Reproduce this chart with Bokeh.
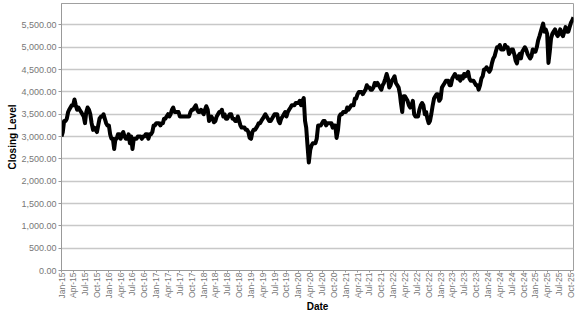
import datetime as dt
from math import pi
from bokeh.plotting import figure
from bokeh.models import (Range1d, FixedTicker, NumeralTickFormatter,
                          DatetimeTickFormatter, ColumnDataSource)
from bokeh.embed import file_html
from bokeh.resources import INLINE

# ---- data: closing level, three readings per month (1st, 11th, 21st) ----
v2015 = [3000, 3100, 3350, 3350, 3400, 3550, 3600, 3650, 3700, 3700, 3830, 3700,
         3600, 3650, 3600, 3550, 3500, 3450, 3300, 3550, 3650, 3600, 3500, 3300,
         3150, 3200, 3150, 3100, 3250, 3400, 3450, 3450, 3500, 3400, 3300, 3250]
v2016 = [3250, 3050, 2950, 2950, 2720, 2950, 2950, 3050, 3050, 2950, 3050, 3100,
         3000, 2950, 2950, 3050, 2850, 3000, 2720, 2950, 2950, 2950, 3000, 3000,
         3000, 2950, 3000, 3000, 3050, 3050, 2950, 3050, 3050, 3100, 3250, 3250]
v2017 = [3300, 3300, 3300, 3250, 3300, 3300, 3400, 3400, 3450, 3500, 3450, 3500,
         3600, 3650, 3550, 3550, 3550, 3550, 3450, 3450, 3450, 3450, 3450, 3450,
         3450, 3450, 3550, 3600, 3600, 3650, 3700, 3600, 3550, 3550, 3600, 3550]
v2018 = [3500, 3600, 3680, 3600, 3350, 3400, 3450, 3400, 3320, 3350, 3450, 3500,
         3550, 3550, 3600, 3450, 3500, 3400, 3400, 3450, 3500, 3500, 3400, 3400,
         3350, 3350, 3450, 3350, 3250, 3200, 3200, 3200, 3150, 3150, 3100, 2970]
v2019 = [2950, 3100, 3150, 3150, 3200, 3250, 3300, 3300, 3350, 3400, 3450, 3500,
         3450, 3400, 3350, 3350, 3400, 3450, 3500, 3500, 3500, 3350, 3300, 3400,
         3450, 3500, 3550, 3450, 3550, 3600, 3650, 3700, 3700, 3700, 3750, 3750]
v2020 = [3750, 3800, 3700, 3800, 3860, 3350, 3200, 2800, 2420, 2700, 2800, 2850,
         2850, 2850, 2950, 3250, 3250, 3250, 3300, 3350, 3350, 3250, 3300, 3300,
         3300, 3300, 3200, 3250, 3250, 2970, 3150, 3450, 3500, 3500, 3550, 3550]
v2021 = [3550, 3650, 3600, 3650, 3700, 3700, 3700, 3850, 3850, 3950, 4000, 4000,
         4000, 3950, 4000, 4050, 4150, 4100, 4100, 4050, 4050, 4100, 4200, 4150,
         4200, 4150, 4100, 4050, 4150, 4200, 4300, 4400, 4300, 4100, 4150, 4250]
v2022 = [4300, 4350, 4200, 4150, 4100, 3950, 3750, 3550, 3900, 3900, 3850, 3800,
         3700, 3650, 3700, 3800, 3500, 3450, 3450, 3450, 3600, 3700, 3750, 3700,
         3500, 3550, 3400, 3300, 3350, 3500, 3700, 3850, 3900, 3950, 3950, 3800]
v2023 = [3850, 4100, 4150, 4200, 4250, 4250, 4250, 4150, 4150, 4300, 4350, 4400,
         4350, 4300, 4350, 4250, 4350, 4300, 4400, 4350, 4400, 4450, 4300, 4250,
         4250, 4250, 4200, 4150, 4150, 4050, 4150, 4300, 4350, 4500, 4500, 4550]
v2024 = [4500, 4450, 4500, 4650, 4750, 4800, 4900, 5000, 5000, 5050, 4950, 4950,
         4950, 5050, 5000, 5000, 4850, 4900, 4950, 4950, 4850, 4700, 4640, 4800,
         4850, 4750, 4900, 4950, 5000, 4950, 4850, 4800, 4750, 4800, 4950, 4900]
v2025 = [4900, 5000, 5150, 5250, 5350, 5450, 5530, 5350, 5400, 5300, 4650, 4900,
         5200, 5300, 5350, 5400, 5300, 5250, 5300, 5400, 5300, 5250, 5350, 5450,
         5350, 5350, 5450, 5550, 5600, 5670]
years = [2015, 2016, 2017, 2018, 2019, 2020, 2021, 2022, 2023, 2024, 2025]
series = [v2015, v2016, v2017, v2018, v2019, v2020, v2021, v2022, v2023, v2024, v2025]
days_of_month = [1, 11, 21]

# tick labels: quarter starts, Jan-15 .. Oct-25
quarter_months = [1, 4, 7, 10]
y_ticks = [0, 500, 1000, 1500, 2000, 2500, 3000, 3500, 4000, 4500, 5000, 5500]

dates, closes = [], []
for yr, vals in zip(years, series):
    for i, v in enumerate(vals):
        dates.append(dt.datetime(yr, i // 3 + 1, days_of_month[i % 3]))
        closes.append(v)

tick_dates = [dt.datetime(y, m, 1) for y in years for m in quarter_months
              if dt.datetime(y, m, 1) <= dt.datetime(2025, 10, 1)]
epoch = dt.datetime(1970, 1, 1)
tick_ms = [(d - epoch).total_seconds() * 1000 for d in tick_dates]

src = ColumnDataSource(dict(date=dates, close=closes))

p = figure(width=577, height=315, x_axis_type="datetime", output_backend="svg",
           toolbar_location=None,
           x_range=Range1d(dates[0], dates[-1]), y_range=Range1d(0, 5980),
           min_border_left=61, min_border_right=4, min_border_top=3, min_border_bottom=44)

p.line("date", "close", source=src, line_color="black", line_width=4, line_join="round")

FONT = "Liberation Sans"
p.xaxis.ticker = FixedTicker(ticks=tick_ms)
fmt = "%b-%y"
p.xaxis.formatter = DatetimeTickFormatter(milliseconds=fmt, seconds=fmt, minsec=fmt, minutes=fmt,
                                          hourmin=fmt, hours=fmt, days=fmt, months=fmt, years=fmt,
                                          context=None)
p.xaxis.major_label_orientation = pi / 2
p.yaxis.ticker = FixedTicker(ticks=y_ticks)
p.yaxis.formatter = NumeralTickFormatter(format="0,0.00")

for ax in (p.xaxis[0], p.yaxis[0]):
    ax.major_label_text_font = FONT
    ax.major_label_text_font_size = "9px"
    ax.major_label_text_color = "#777777"
    ax.axis_label_text_font = FONT
    ax.axis_label_text_font_size = "10px"
    ax.axis_label_text_font_style = "bold"
    ax.axis_label_text_color = "black"
    ax.axis_line_color = "#999999"
    ax.major_tick_line_color = "#999999"
    ax.major_tick_out = 3
    ax.major_tick_in = 0
    ax.minor_tick_line_color = None
    ax.major_label_standoff = 2
    ax.axis_label_standoff = 3

p.xaxis.major_label_text_font_size = "8.5px"
p.xaxis.major_tick_out = 2
p.xaxis.major_label_standoff = 0
p.xaxis.axis_label_standoff = 0
p.yaxis.axis_label_standoff = 0

p.xaxis.axis_label = "Date"
p.yaxis.axis_label = "Closing Level"

p.xgrid.grid_line_color = None
p.ygrid.grid_line_color = "#c8c8c8"
p.ygrid.grid_line_width = 1.5
p.ygrid.ticker = FixedTicker(ticks=y_ticks)
p.outline_line_color = "#a0a0a0"
p.background_fill_color = "white"
p.border_fill_color = "white"

open("out.html", "w").write(file_html(p, INLINE))
